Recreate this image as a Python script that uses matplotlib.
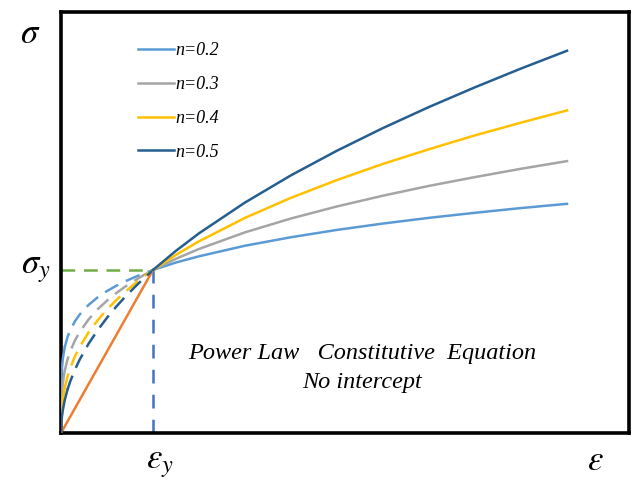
import matplotlib
matplotlib.use("Agg")
import matplotlib.pyplot as plt

plt.rcParams['mathtext.fontset'] = 'stix'

# ---- data (strain normalised by eps_y, stress by sigma_y) ----
labels = ["n=0.2", "n=0.3", "n=0.4", "n=0.5"]
colors = ["#5B9BD5", "#A5A5A5", "#FFC000", "#255E91"]

eps_pre = [0, 0.005, 0.01, 0.02, 0.04, 0.07, 0.1, 0.15, 0.2, 0.3, 0.4, 0.5, 0.6, 0.7, 0.8, 0.9, 1.0]
sig_pre_02 = [0, 0.347, 0.398, 0.457, 0.525, 0.588, 0.631, 0.684, 0.725, 0.786, 0.833, 0.871, 0.903, 0.931, 0.956, 0.979, 1.0]
sig_pre_03 = [0, 0.204, 0.251, 0.309, 0.381, 0.450, 0.501, 0.566, 0.617, 0.697, 0.760, 0.812, 0.858, 0.899, 0.935, 0.969, 1.0]
sig_pre_04 = [0, 0.120, 0.158, 0.209, 0.276, 0.345, 0.398, 0.468, 0.525, 0.618, 0.693, 0.758, 0.815, 0.867, 0.915, 0.959, 1.0]
sig_pre_05 = [0, 0.071, 0.100, 0.141, 0.200, 0.265, 0.316, 0.387, 0.447, 0.548, 0.632, 0.707, 0.775, 0.837, 0.894, 0.949, 1.0]
solid_end = [4, 4, 4, 5]   # index where the solid start of each pre-yield curve ends

eps_post = [1.0, 1.25, 1.5, 2.0, 2.5, 3.0, 3.5, 4.0, 4.5, 5.0, 5.5]
sig_post_02 = [1.0, 1.046, 1.084, 1.149, 1.201, 1.246, 1.285, 1.320, 1.351, 1.380, 1.406]
sig_post_03 = [1.0, 1.069, 1.129, 1.231, 1.316, 1.390, 1.456, 1.516, 1.570, 1.621, 1.668]
sig_post_04 = [1.0, 1.093, 1.176, 1.320, 1.443, 1.552, 1.651, 1.741, 1.826, 1.904, 1.979]
sig_post_05 = [1.0, 1.118, 1.225, 1.414, 1.581, 1.732, 1.871, 2.000, 2.121, 2.236, 2.345]

elastic_eps = [0, 1.0]
elastic_sig = [0, 1.0]
eps_y = 1.0
sig_y = 1.0

pre = [sig_pre_02, sig_pre_03, sig_pre_04, sig_pre_05]
post = [sig_post_02, sig_post_03, sig_post_04, sig_post_05]

fig = plt.figure(figsize=(6.33, 4.82), dpi=100)
ax = fig.add_axes([61/633, 49/482, 568/633, 421/482])
ax.set_xlim(0, 568/92)
ax.set_ylim(0, 421/163)
ax.set_xticks([])
ax.set_yticks([])
for s in ax.spines.values():
    s.set_linewidth(2.6)
    s.set_color("black")

lw = 1.8
dash = (0, (6.0, 3.4))
# elastic line
ax.plot(elastic_eps, elastic_sig, color="#ED7D31", lw=lw, zorder=2)
# pre-yield dashed parts
for sp, c, k in zip(pre, colors, solid_end):
    ax.plot(eps_pre[:k + 1], sp[:k + 1], color=c, lw=lw, zorder=3)
    ax.plot(eps_pre[k:], sp[k:], color=c, lw=lw, ls=dash, zorder=3)
# guides
ax.plot([0, eps_y], [sig_y, sig_y], color="#70AD47", lw=1.8, ls=(0, (5.5, 3.5)), zorder=1)
ax.plot([eps_y, eps_y], [0, sig_y], color="#4472C4", lw=1.8, ls=(0, (5.5, 4.5)), zorder=1)
# post-yield solid curves
handles = []
for sp, c, lab in zip(post, colors, labels):
    h, = ax.plot(eps_post, sp, color=c, lw=lw, label=lab, zorder=4)
    handles.append(h)

leg = ax.legend(handles=handles, loc="upper left", bbox_to_anchor=(0.123, 0.945),
                frameon=False, handlelength=2.0, handletextpad=0.08, labelspacing=0.93,
                borderaxespad=0, prop={"family": "Liberation Serif", "style": "italic", "size": 13})

ax.text(0.53, 0.19, "Power Law   Constitutive  Equation", transform=ax.transAxes,
        ha="center", va="center", family="Liberation Serif", style="italic", fontsize=17.5)
ax.text(0.53, 0.12, "No intercept", transform=ax.transAxes,
        ha="center", va="center", family="Liberation Serif", style="italic", fontsize=17.5)

fig.text(30/633, 1 - 33/482, r"$\sigma$", ha="center", va="center", fontsize=25)
fig.text(36/633, 1 - 268/482, r"$\sigma_y$", ha="center", va="center", fontsize=25)
fig.text(160/633, 1 - 463/482, r"$\varepsilon_y$", ha="center", va="center", fontsize=25)
fig.text(595/633, 1 - 460/482, r"$\varepsilon$", ha="center", va="center", fontsize=25)

fig.savefig("out.png", dpi=100)
